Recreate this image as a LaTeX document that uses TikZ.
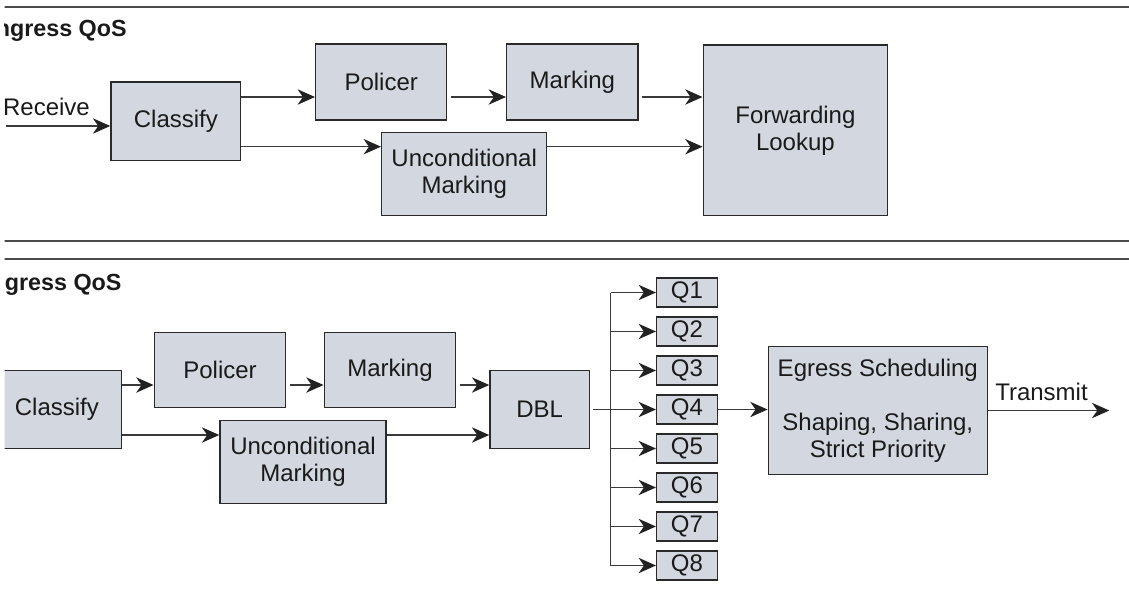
\documentclass[tikz,border=0pt]{standalone}
\usepackage{fontspec}
\setmainfont{Liberation Sans}
\usetikzlibrary{arrows.meta}
\definecolor{boxfill}{HTML}{D3D7DF}
\definecolor{edge}{HTML}{2A2A2A}
\definecolor{wire}{HTML}{3A3A3A}
\definecolor{rulecol}{HTML}{4A4A4A}
\definecolor{ink}{HTML}{1A1A1A}
\definecolor{tipcol}{HTML}{222222}
\begin{document}
\begin{tikzpicture}[x=0.75pt,y=-0.75pt,
  wh/.style 2 args={minimum width=#1*0.75pt, minimum height=#2*0.75pt},
  box/.style={draw=edge, fill=boxfill, line width=1.1pt, inner sep=0pt,
    align=center, text=ink, font=\fontsize{18}{20.25}\selectfont},
  plain/.style={inner sep=0pt, text=ink, font=\fontsize{18}{20.25}\selectfont},
  title/.style={inner sep=0pt, text=ink, font=\fontsize{17.5}{20}\selectfont\bfseries},
  wire/.style={draw=wire, line width=1.1pt},
  wirearrow/.style={wire, -{Stealth[length=13pt,width=11.5pt,inset=4pt,color=tipcol]}},
  gap/.style={shorten <=2.5pt},
  sectionrule/.style={draw=rulecol, line width=1.4pt}
]
\useasboundingbox (0,0) rectangle (1129,590);
\clip (4.5,0) rectangle (1129,590);

% section separators
\draw[sectionrule] (0,7.3) -- (1129,7.3);
\draw[sectionrule] (0,240.7) -- (1129,240.7);
\draw[sectionrule] (0,259) -- (1129,259);

% ---------- ingress path ----------
\node[title, anchor=base west] (ingtitle) at (-11,36) {Ingress QoS};

\node[box, wh={129.7}{78.7}] (cls1) at (175.85,121.35) {Classify};
\node[box, wh={131}{76}]     (pol1) at (381.2,82) {Policer};
\node[box, wh={131.3}{76}]   (mrk1) at (572.35,82) {Marking};
\node[box, wh={165}{83}]     (unc1) at (464.2,174.2) {Unconditional\\Marking};
\node[box, wh={184.2}{170.7}] (fwd) at (795.4,130.35) {Forwarding\\Lookup};

\node[plain] (rxlabel) at (46.5,107) {Receive};
\coordinate (rxstart) at (6,126);
\coordinate (ia) at (0,97);
\coordinate (ib) at (0,146.7);

\draw[wirearrow] (rxstart) -- (cls1.west |- rxstart);
\draw[wirearrow] (cls1.east |- ia) -- (pol1.west |- ia);
\draw[wirearrow, gap] (pol1.east |- ia) -- (mrk1.west |- ia);
\draw[wirearrow, gap] (mrk1.east |- ia) -- (fwd.west |- ia);
\draw[wirearrow] (cls1.east |- ib) -- (unc1.west |- ib);
\draw[wirearrow] (unc1.east |- ib) -- (fwd.west |- ib);

% ---------- egress path ----------
\node[title, anchor=base west] (egtitle) at (-11,290) {Egress QoS};

\node[box, wh={129.7}{77.6}] (cls2) at (56.85,409.5) {Classify};
\node[box, wh={131.4}{75}]   (pol2) at (220,370.2) {Policer};
\node[box, wh={131.4}{75}]   (mrk2) at (390,370.2) {Marking};
\node[box, wh={166}{82.6}]   (unc2) at (303,462) {Unconditional\\Marking};
\node[box, wh={99.3}{77.6}]  (dbl)  at (539.65,409.5) {DBL};
\foreach \i in {1,...,8}
  \node[box, wh={60.6}{29}] (q\i) at (687,{292.5+39*(\i-1)}) {Q\i};
\node[box, wh={219}{127.6}] (egr) at (877.8,410.5)
  {Egress Scheduling\\[20.25pt]Shaping, Sharing,\\Strict Priority};

\coordinate (ea) at (0,385);
\coordinate (eb) at (0,435);
\coordinate (bus) at (610.7,0);
\coordinate (txend) at (1109.3,410.5);
\node[plain, anchor=base west] (txlabel) at (995,400) {Transmit};

\draw[wirearrow] (cls2.east |- ea) -- (pol2.west |- ea);
\draw[wirearrow, gap] (pol2.east |- ea) -- (mrk2.west |- ea);
\draw[wirearrow, gap] (mrk2.east |- ea) -- (dbl.west |- ea);
\draw[wirearrow] (cls2.east |- eb) -- (unc2.west |- eb);
\draw[wirearrow] (unc2.east |- eb) -- (dbl.west |- eb);

% fan-out to the eight queues
\draw[wire] (bus |- q1) -- (bus |- q8);
\draw[wirearrow, gap] (dbl.east) -- (q4.west);
\foreach \i in {1,2,3,5,6,7,8}
  \draw[wirearrow] (bus |- q\i) -- (q\i.west);

\draw[wirearrow] (q4.east) -- (egr.west |- q4);
\draw[wirearrow] (egr.east) -- (txend);
\end{tikzpicture}
\end{document}
